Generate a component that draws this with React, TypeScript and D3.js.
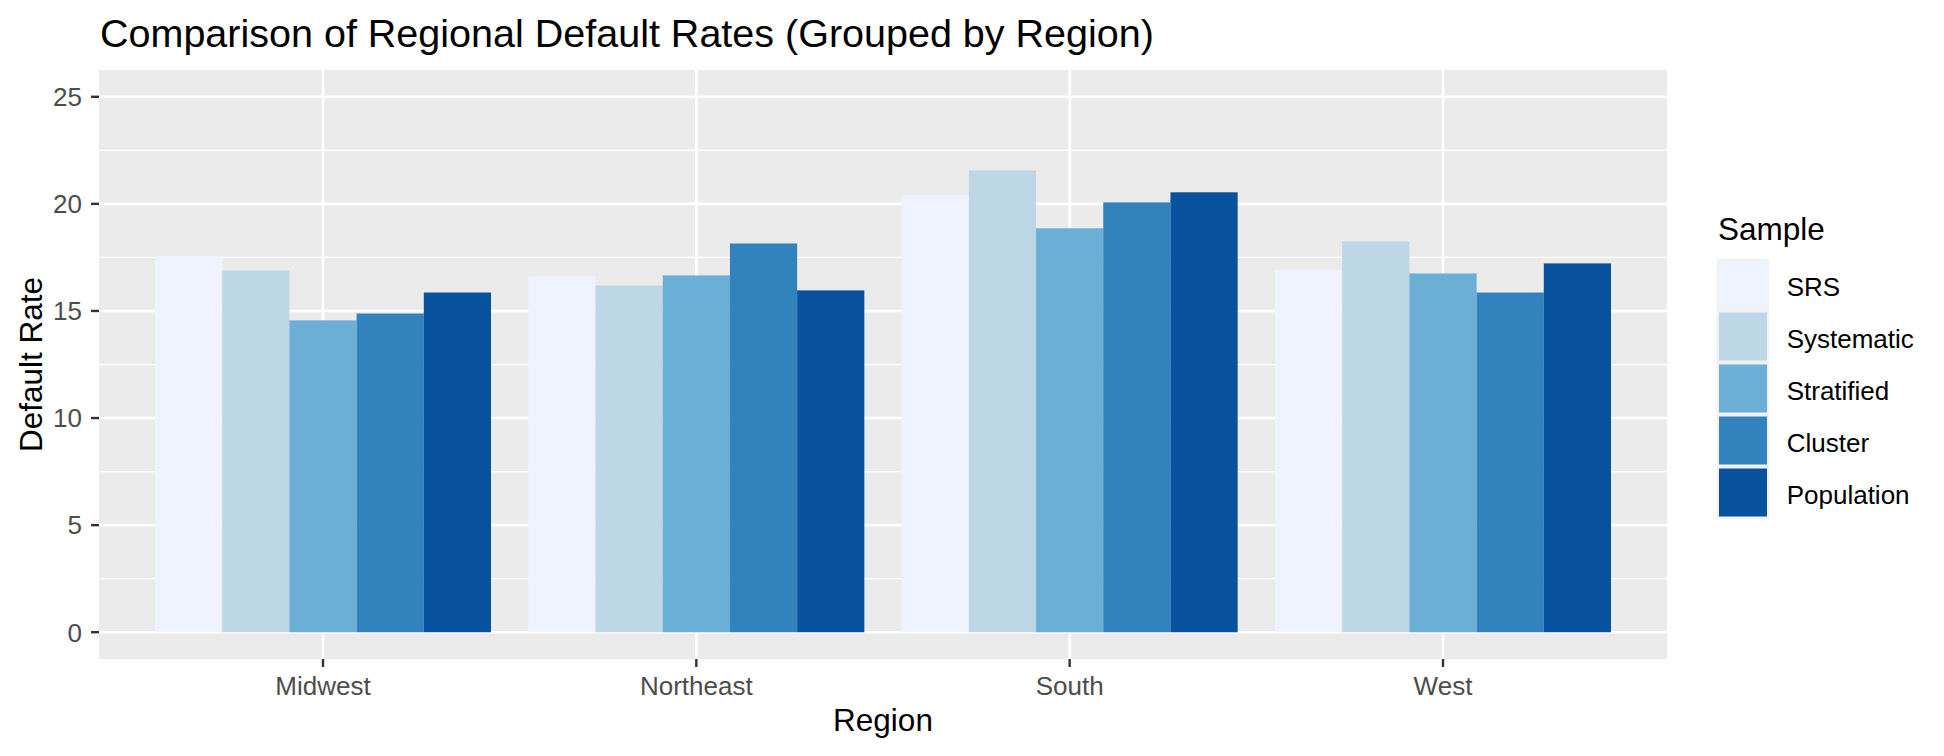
import { scaleBand, scaleLinear, range } from 'd3';

const regions = ['Midwest', 'Northeast', 'South', 'West'];
const samples = ['SRS', 'Systematic', 'Stratified', 'Cluster', 'Population'];
const colors = ['#EFF3FF', '#BDD7E7', '#6BAED6', '#3182BD', '#08519C'];

// one array per sample, in region order
const srs = [17.55, 16.61, 20.4, 16.92];
const systematic = [16.89, 16.19, 21.56, 18.25];
const stratified = [14.56, 16.66, 18.86, 16.75];
const cluster = [14.88, 18.15, 20.07, 15.86];
const population = [15.86, 15.96, 20.54, 17.22];
const seriesValues = [srs, systematic, stratified, cluster, population];

const yTicks = [0, 5, 10, 15, 20, 25];
const yMinor = [2.5, 7.5, 12.5, 17.5, 22.5];

const W = 1944;
const H = 756;
const panel = { left: 99, right: 1667, top: 70, bottom: 659 };
const font = "'Liberation Sans', Arial, sans-serif";
const tickSize = 8;
const textSize = 26;

export default function App() {
  const x = scaleBand<string>()
    .domain(regions)
    .range([panel.left, panel.right])
    .paddingInner(0)
    .paddingOuter(0.1);
  const step = x.step();

  const y = scaleLinear().domain([-1.25, 26.25]).range([panel.bottom, panel.top]);

  const inner = scaleBand<string>().domain(samples).range([-0.45 * step, 0.45 * step]).padding(0);

  const keyTop = 259;
  const keyPitch = 52;

  return (
    <svg
      width={W}
      height={H}
      style={{ position: 'absolute', left: 0, top: 0, background: '#fff' }}
      fontFamily={font}
    >
      <rect x={0} y={0} width={W} height={H} fill="#fff" />

      {/* Panel */}
      <rect x={panel.left} y={panel.top} width={panel.right - panel.left} height={panel.bottom - panel.top} fill="#EBEBEB" />

      {/* Minor grid */}
      {yMinor.map((t) => (
        <line key={'mn' + t} x1={panel.left} x2={panel.right} y1={y(t)} y2={y(t)} stroke="#fff" strokeWidth={1.3} />
      ))}
      {/* Major grid */}
      {yTicks.map((t) => (
        <line key={'mj' + t} x1={panel.left} x2={panel.right} y1={y(t)} y2={y(t)} stroke="#fff" strokeWidth={2.6} />
      ))}
      {regions.map((r) => {
        const cx = (x(r) || 0) + step / 2;
        return <line key={'vx' + r} x1={cx} x2={cx} y1={panel.top} y2={panel.bottom} stroke="#fff" strokeWidth={2.6} />;
      })}

      {/* Bars */}
      {regions.map((r, i) => {
        const cx = (x(r) || 0) + step / 2;
        return samples.map((s, j) => {
          const v = seriesValues[j][i];
          return (
            <rect
              key={r + s}
              x={cx + (inner(s) || 0)}
              y={y(v)}
              width={inner.bandwidth()}
              height={y(0) - y(v)}
              fill={colors[j]}
            />
          );
        });
      })}

      {/* Y axis */}
      {yTicks.map((t) => (
        <g key={'yt' + t}>
          <line x1={panel.left - tickSize} x2={panel.left} y1={y(t)} y2={y(t)} stroke="#333" strokeWidth={2.4} />
          <text x={82} y={y(t)} dy="0.36em" textAnchor="end" fontSize={textSize} fill="#4D4D4D">
            {t}
          </text>
        </g>
      ))}

      {/* X axis */}
      {regions.map((r) => {
        const cx = (x(r) || 0) + step / 2;
        return (
          <g key={'xt' + r}>
            <line x1={cx} x2={cx} y1={panel.bottom} y2={panel.bottom + tickSize} stroke="#333" strokeWidth={2.4} />
            <text x={cx} y={695} textAnchor="middle" fontSize={textSize} fill="#4D4D4D">
              {r}
            </text>
          </g>
        );
      })}

      {/* Axis titles */}
      <text x={(panel.left + panel.right) / 2} y={731} textAnchor="middle" fontSize={31.5} fill="#000">
        Region
      </text>
      <text
        transform={`translate(41.5,${(panel.top + panel.bottom) / 2}) rotate(-90)`}
        textAnchor="middle"
        fontSize={31.5}
        fill="#000"
      >
        Default Rate
      </text>

      {/* Title */}
      <text x={100} y={47} fontSize={39.5} fill="#000">
        Comparison of Regional Default Rates (Grouped by Region)
      </text>

      {/* Legend */}
      <text x={1718} y={240} fontSize={31.5} fill="#000">
        Sample
      </text>
      {range(samples.length).map((j) => {
        const top = keyTop + j * keyPitch;
        return (
          <g key={'lg' + j}>
            <rect x={1716.7} y={top} width={52.3} height={keyPitch} fill="#F2F2F2" />
            <rect x={1719} y={top + 1.5} width={48} height={keyPitch - 4} fill={colors[j]} />
            <text x={1786.7} y={top + keyPitch / 2 + 10.5} fontSize={textSize} fill="#000">
              {samples[j]}
            </text>
          </g>
        );
      })}
    </svg>
  );
}
